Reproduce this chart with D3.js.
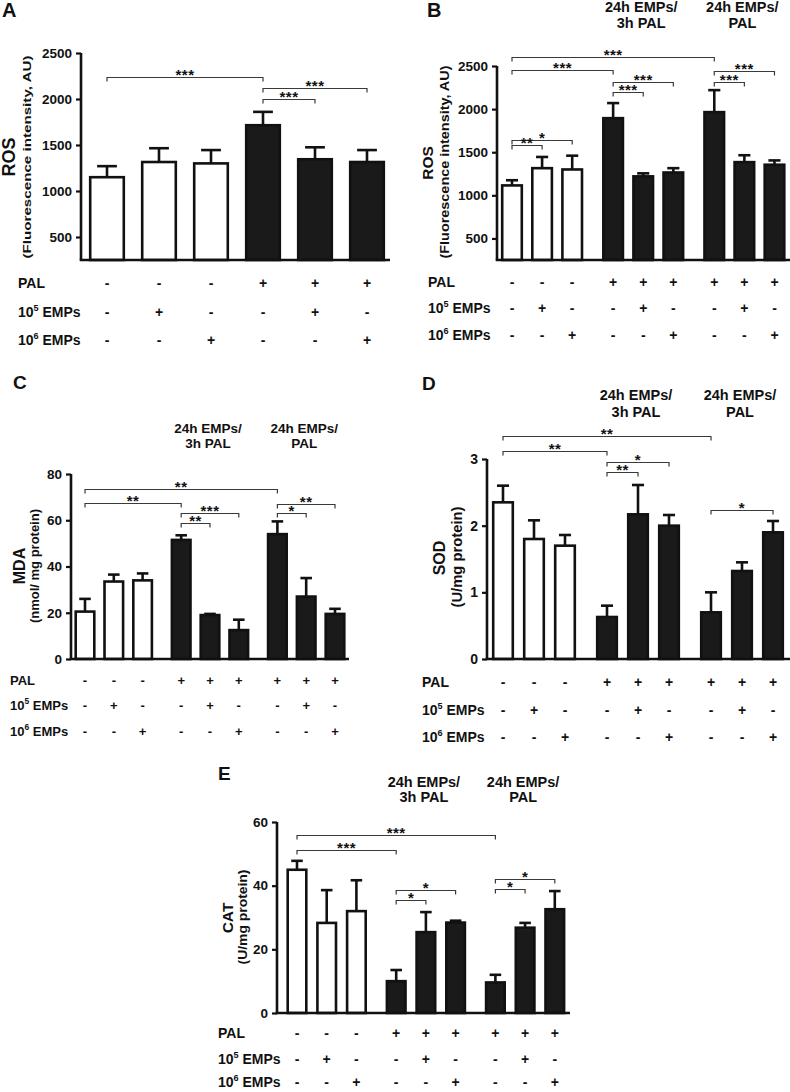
<!DOCTYPE html>
<html><head><meta charset="utf-8">
<script src="https://cdn.jsdelivr.net/npm/d3@7"></script>
<style>
body{margin:0;background:#fff}
svg{display:block}
text{font-family:"Liberation Sans",Arial,sans-serif;font-weight:bold;fill:#111}
</style>
</head><body>
<svg id="fig" width="790" height="1092"></svg>
<script>
// ---------------- DATA ----------------
const palA  = ['-','-','-','+','+','+'];
const emp5A = ['-','+','-','-','+','-'];
const emp6A = ['-','-','+','-','-','+'];
const pal9  = ['-','-','-','+','+','+','+','+','+'];
const emp5  = ['-','+','-','-','+','-','-','+','-'];
const emp6  = ['-','-','+','-','-','+','-','-','+'];

const rosAMean = [1150, 1315, 1300, 1715, 1345, 1315];
const rosASem  = [120, 150, 145, 145, 130, 130];

const rosBMean = [1115, 1315, 1300, 1895, 1220, 1265, 1965, 1385, 1355];
const rosBSem  = [60, 130, 160, 175, 35, 50, 255, 80, 50];

const mdaMean = [20.5, 33.5, 34, 51.5, 19, 12.5, 54, 27, 19.5];
const mdaSem  = [5.5, 3, 3, 2, 0.5, 4.5, 5.5, 8, 2.2];

const sodMean = [2.35, 1.80, 1.70, 0.63, 2.17, 2.0, 0.70, 1.32, 1.90];
const sodSem  = [0.25, 0.28, 0.16, 0.17, 0.44, 0.16, 0.30, 0.13, 0.17];

const catMean = [45, 28.3, 32, 10, 25.4, 28.4, 9.6, 26.8, 32.6];
const catSem  = [2.8, 10.3, 9.7, 3.5, 6.3, 0.6, 2.4, 1.5, 5.7];

const ticksROS = [500, 1000, 1500, 2000, 2500];
const ticksMDA = [0, 20, 40, 60, 80];
const ticksSOD = [0, 1, 2, 3];
const ticksCAT = [0, 20, 40, 60];

const groupHeaders = [['24h EMPs/', '3h PAL'], ['24h EMPs/', 'PAL']];
const rowLabels = [{base:'PAL'}, {base:'10', sup:'5', rest:' EMPs'}, {base:'10', sup:'6', rest:' EMPs'}];

// significance brackets: [from bar, to bar, label, height in data units]
const sigA = [[0,3,'***',2240],[3,5,'***',2120],[3,4,'***',2000]];
const sigB = [[0,6,'***',2610],[0,3,'***',2450],[3,5,'***',2320],[3,4,'***',2200],
              [6,8,'***',2440],[6,7,'***',2320],[0,2,'*',1645],[0,1,'**',1580]];
const sigC = [[0,6,'**',73.5],[0,3,'**',67.5],[3,5,'***',63],[3,4,'**',59],[6,8,'**',67],[6,7,'*',63]];
const sigD = [[0,6,'**',3.345],[0,3,'**',3.12],[3,5,'*',2.955],[3,4,'**',2.805],[6,8,'*',2.235]];
const sigE = [[0,6,'***',55.9],[0,3,'***',51.2],[3,5,'*',38.6],[3,4,'*',35.5],[6,8,'*',42.1],[6,7,'*',39.0]];

// ---------------- LAYOUT ----------------
const panels = [
  {letter:'A', lx:2, ly:17, ls:20,
   mean:rosAMean, sem:rosASem, rows:[palA,emp5A,emp6A], sig:sigA, ticks:ticksROS,
   domain:[250,2500], yr:[260,53], axisX:81, xEnd:390, first:107, step:52, gap:0, bw:36,
   headers:false,
   t1:{text:'ROS', x:15, y:157, size:18},
   t2:{text:'(Fluorescence intensity, AU)', x:31, y:157, size:10.5, len:203},
   rowX:18, rowY:[288,317,345], rowSize:14, tickSize:13.5},
  {letter:'B', lx:427, ly:17, ls:20,
   mean:rosBMean, sem:rosBSem, rows:[pal9,emp5,emp6], sig:sigB, ticks:ticksROS,
   domain:[250,2500], yr:[260,66], axisX:497, xEnd:790, first:512, step:30.1, gap:0.36, bw:22,
   headers:true, hY:[12,28], hSize:14.5,
   t1:{text:'ROS', x:433, y:163, size:15.5},
   t2:{text:'(Fluorescence intensity, AU)', x:449, y:162, size:12.5, len:193},
   rowX:428, rowY:[287,313,340], rowSize:14, tickSize:13.5},
  {letter:'C', lx:13, ly:389, ls:19,
   mean:mdaMean, sem:mdaSem, rows:[pal9,emp5,emp6], sig:sigC, ticks:ticksMDA,
   domain:[0,80], yr:[659,474], axisX:71, xEnd:349, first:85, step:28.8, gap:0.34, bw:21,
   headers:true, hY:[433,448], hSize:13.5,
   t1:{text:'MDA', x:25, y:566, size:16},
   t2:{text:'(nmol/ mg protein)', x:39, y:566, size:13, len:114},
   rowX:10, rowY:[685,710,736], rowSize:13, tickSize:13.5},
  {letter:'D', lx:422, ly:390, ls:19,
   mean:sodMean, sem:sodSem, rows:[pal9,emp5,emp6], sig:sigD, ticks:ticksSOD,
   domain:[0,3], yr:[659,459], axisX:487, xEnd:790, first:503, step:31, gap:0.355, bw:22,
   headers:true, hY:[400,417], hSize:14.5,
   t1:{text:'SOD', x:445, y:558, size:16},
   t2:{text:'(U/mg protein)', x:462, y:557, size:14, len:101},
   rowX:422, rowY:[687,715,742], rowSize:14, tickSize:14},
  {letter:'E', lx:218, ly:780, ls:19,
   mean:catMean, sem:catSem, rows:[pal9,emp5,emp6], sig:sigE, ticks:ticksCAT,
   domain:[0,60], yr:[1013,822], axisX:277, xEnd:570, first:297, step:29.7, gap:0.34, bw:21,
   headers:true, hY:[787,802], hSize:14.5,
   t1:{text:'CAT', x:233, y:918, size:15.5},
   t2:{text:'(U/mg protein)', x:247, y:917, size:13.5, len:95},
   rowX:218, rowY:[1038,1064,1087], rowSize:14, tickSize:13.5}
];

const svg = d3.select('#fig');

panels.forEach(p => {
  const g = svg.append('g');
  const n = p.mean.length;
  const slot = i => i + p.gap * Math.floor(i / 3);
  const x = d3.scaleLinear().domain([0, 1]).range([p.first, p.first + p.step]);
  const cx = i => x(slot(i));
  const y = d3.scaleLinear().domain(p.domain).range(p.yr);
  const base = p.yr[0];

  // panel letter
  g.append('text').attr('x', p.lx).attr('y', p.ly).attr('font-size', p.ls).text(p.letter);

  // error bars (behind bars)
  const idx = d3.range(n);
  const capW = p.bw * 0.55;
  g.selectAll('line.err').data(idx).join('line')
    .attr('x1', i => cx(i)).attr('x2', i => cx(i))
    .attr('y1', i => y(p.mean[i])).attr('y2', i => y(p.mean[i] + p.sem[i]))
    .attr('stroke', '#111').attr('stroke-width', 2.6);
  g.selectAll('line.cap').data(idx).join('line')
    .attr('x1', i => cx(i) - capW / 2).attr('x2', i => cx(i) + capW / 2)
    .attr('y1', i => y(p.mean[i] + p.sem[i])).attr('y2', i => y(p.mean[i] + p.sem[i]))
    .attr('stroke', '#111').attr('stroke-width', 2.6);

  // bars
  g.selectAll('rect.bar').data(idx).join('rect')
    .attr('x', i => cx(i) - p.bw / 2 + 1.2)
    .attr('width', p.bw - 2.4)
    .attr('y', i => y(p.mean[i]))
    .attr('height', i => base - y(p.mean[i]))
    .attr('fill', i => i < 3 ? '#fff' : '#1a1a1a')
    .attr('stroke', '#111').attr('stroke-width', 2.6);

  // y axis
  const yAxis = d3.axisLeft(y).tickValues(p.ticks).tickSize(5).tickPadding(4).tickFormat(d3.format('d'));
  const ax = g.append('g').attr('transform', `translate(${p.axisX},0)`).call(yAxis);
  ax.select('.domain').attr('d', `M0,${base}V${y(p.ticks[p.ticks.length - 1])}`)
    .attr('stroke', '#111').attr('stroke-width', 2.6);
  ax.selectAll('.tick line').attr('stroke', '#111').attr('stroke-width', 2.2);
  ax.selectAll('.tick text').attr('font-size', p.tickSize).attr('font-family', '"Liberation Sans",Arial,sans-serif')
    .attr('font-weight', 'bold').attr('fill', '#111');

  // x axis baseline
  g.append('line').attr('x1', p.axisX - 1.3).attr('x2', p.xEnd).attr('y1', base).attr('y2', base)
    .attr('stroke', '#111').attr('stroke-width', 2.6);

  // y titles
  g.append('text').attr('transform', `translate(${p.t1.x},${p.t1.y}) rotate(-90)`)
    .attr('text-anchor', 'middle').attr('font-size', p.t1.size).text(p.t1.text);
  g.append('text').attr('transform', `translate(${p.t2.x},${p.t2.y}) rotate(-90)`)
    .attr('text-anchor', 'middle').attr('font-size', p.t2.size)
    .attr('textLength', p.t2.len).attr('lengthAdjust', 'spacingAndGlyphs').text(p.t2.text);

  // group headers
  if (p.headers) {
    groupHeaders.forEach((h, k) => {
      const c = cx(3 * (k + 1) + 1) - 2;
      h.forEach((line, j) => {
        g.append('text').attr('x', c).attr('y', p.hY[j]).attr('text-anchor', 'middle')
          .attr('font-size', p.hSize).text(line);
      });
    });
  }

  // significance brackets
  p.sig.forEach(([a, b, lab, v]) => {
    const yy = Math.round(y(v)) + 0.5, x1 = cx(a), x2 = cx(b);
    g.append('path').attr('d', `M${x1},${yy + 4}V${yy}H${x2}V${yy + 4}`)
      .attr('fill', 'none').attr('stroke', '#3a3a3a').attr('stroke-width', 1.2);
    g.append('text').attr('x', (x1 + x2) / 2).attr('y', yy + 2.5).attr('text-anchor', 'middle')
      .attr('font-size', 15).attr('font-weight', 'normal').attr('fill', '#333')
      .attr('letter-spacing', 0.5).text(lab);
  });

  // condition table
  rowLabels.forEach((r, k) => {
    const t = g.append('text').attr('x', p.rowX).attr('y', p.rowY[k]).attr('font-size', p.rowSize);
    t.append('tspan').text(r.base);
    if (r.sup) {
      t.append('tspan').attr('font-size', p.rowSize * 0.65).attr('dy', -p.rowSize * 0.45).text(r.sup);
      t.append('tspan').attr('dy', p.rowSize * 0.45).text(r.rest);
    }
    g.selectAll(null).data(p.rows[k]).join('text')
      .attr('x', (d, i) => cx(i)).attr('y', p.rowY[k]).attr('text-anchor', 'middle')
      .attr('font-size', p.rowSize).text(d => d);
  });
});
</script>
</body></html>
